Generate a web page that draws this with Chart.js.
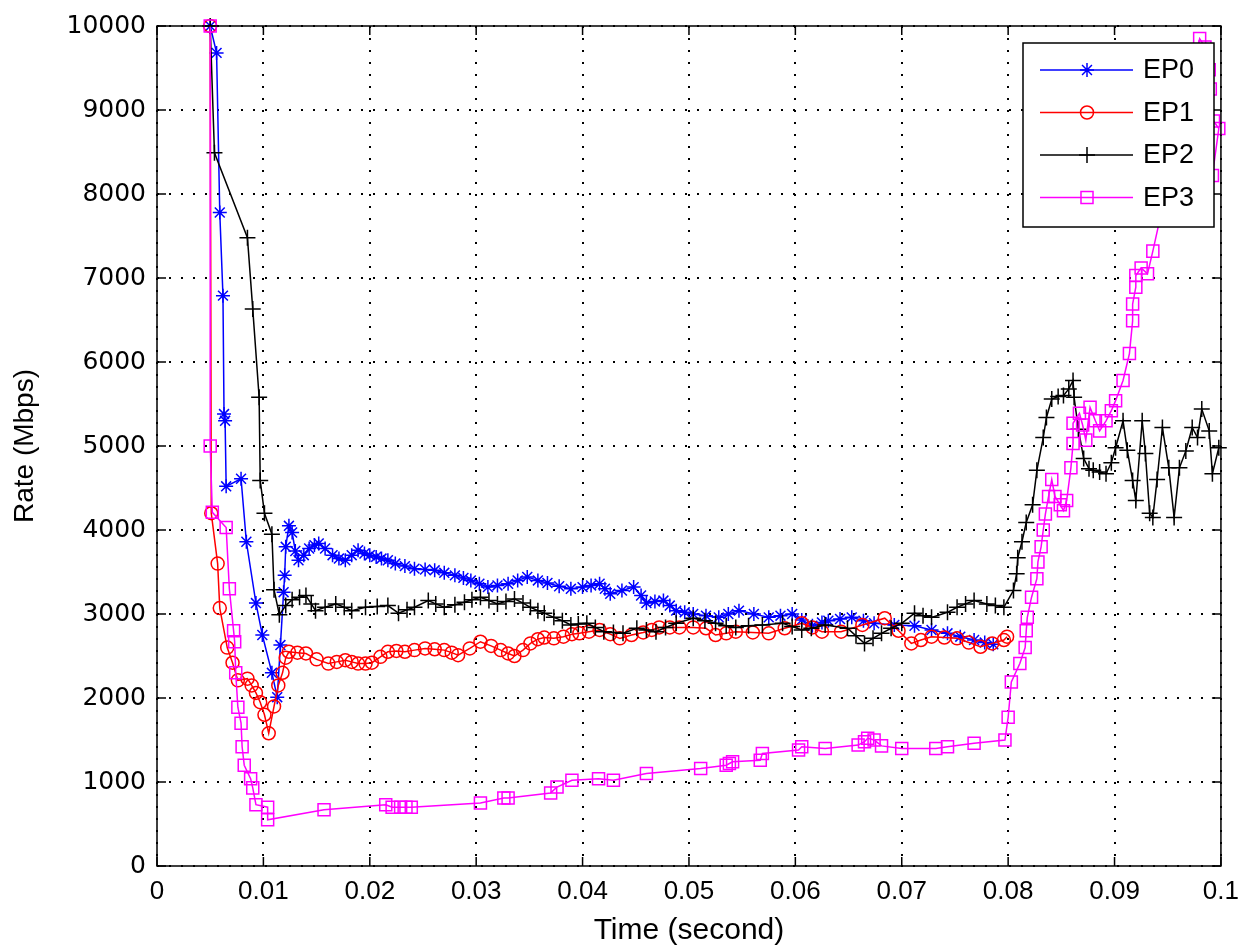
<!DOCTYPE html>
<html>
<head>
<meta charset="utf-8">
<script src="https://cdn.jsdelivr.net/npm/chart.js@4.4.0/dist/chart.umd.min.js"></script>
<style>
  html, body { margin: 0; padding: 0; background: #fff; }
  canvas { display: block; }
</style>
</head>
<body>
<canvas id="rateChart" width="1249" height="949"></canvas>
<script>
// tick values / labels
const xTickValues = [0, 0.01, 0.02, 0.03, 0.04, 0.05, 0.06, 0.07, 0.08, 0.09, 0.1];
const xTickLabels = ['0', '0.01', '0.02', '0.03', '0.04', '0.05', '0.06', '0.07', '0.08', '0.09', '0.1'];
const yTickValues = [0, 1000, 2000, 3000, 4000, 5000, 6000, 7000, 8000, 9000, 10000];
const yTickLabels = ['0', '1000', '2000', '3000', '4000', '5000', '6000', '7000', '8000', '9000', '10000'];

const seriesNames = ['EP0', 'EP1', 'EP2', 'EP3'];

// EP0 (blue, asterisk)
const ep0Time = [0.0050, 0.0056, 0.0059, 0.0062, 0.0063, 0.0064, 0.0065, 0.0079, 0.0084, 0.0093,
  0.0099, 0.0108, 0.0113, 0.0116, 0.0119, 0.0120, 0.0121, 0.0124, 0.0127, 0.0130,
  0.0133, 0.0138, 0.0143, 0.0148, 0.0152, 0.0158, 0.0165, 0.0171, 0.0177, 0.0183,
  0.0189, 0.0195, 0.0200, 0.0206, 0.0211, 0.0217, 0.0224, 0.0233, 0.0242, 0.0252,
  0.0261, 0.0270, 0.0280, 0.0288, 0.0295, 0.0303, 0.0311, 0.0320, 0.0330, 0.0339,
  0.0348, 0.0358, 0.0367, 0.0378, 0.0389, 0.0400, 0.0408, 0.0416, 0.0421, 0.0426,
  0.0437, 0.0448, 0.0455, 0.0460, 0.0468, 0.0476, 0.0482, 0.0488, 0.0496, 0.0504,
  0.0516, 0.0528, 0.0537, 0.0547, 0.0561, 0.0575, 0.0586, 0.0597, 0.0606, 0.0616,
  0.0625, 0.0631, 0.0642, 0.0653, 0.0664, 0.0674, 0.0693, 0.0712, 0.0728, 0.0743,
  0.0755, 0.0768, 0.0778, 0.0786];
const ep0Rate = [10000, 9680, 7780, 6790, 5380, 5300, 4520, 4610, 3860, 3130,
  2750, 2300, 2010, 2630, 3260, 3460, 3800, 4050, 3970, 3750,
  3640, 3700, 3780, 3820, 3840, 3780, 3700, 3660, 3640, 3700,
  3760, 3720, 3700, 3680, 3660, 3640, 3600, 3570, 3540, 3530,
  3520, 3490, 3460, 3430, 3400, 3360, 3320, 3340, 3360, 3400,
  3440, 3400, 3370, 3330, 3300, 3320, 3340, 3360, 3300, 3240,
  3280, 3320, 3220, 3130, 3150, 3160, 3100, 3040, 3020, 3000,
  2980, 2960, 3000, 3040, 3000, 2960, 2980, 3000, 2930, 2860,
  2900, 2920, 2940, 2960, 2920, 2890, 2870, 2860, 2810, 2770,
  2730, 2690, 2660, 2640];

// EP1 (red, circle)
const ep1Time = [0.0050, 0.0051, 0.0057, 0.0059, 0.0066, 0.0071, 0.0076, 0.0085, 0.0089, 0.0093,
  0.0097, 0.0101, 0.0105, 0.0110, 0.0114, 0.0118, 0.0121, 0.0124, 0.0132, 0.0140,
  0.0150, 0.0161, 0.0169, 0.0177, 0.0183, 0.0189, 0.0196, 0.0202, 0.0210, 0.0217,
  0.0225, 0.0233, 0.0242, 0.0252, 0.0261, 0.0270, 0.0277, 0.0283, 0.0294, 0.0304,
  0.0314, 0.0323, 0.0330, 0.0336, 0.0344, 0.0351, 0.0358, 0.0364, 0.0373, 0.0382,
  0.0390, 0.0397, 0.0406, 0.0416, 0.0426, 0.0435, 0.0446, 0.0457, 0.0465, 0.0472,
  0.0482, 0.0491, 0.0504, 0.0516, 0.0525, 0.0535, 0.0544, 0.0560, 0.0575, 0.0590,
  0.0606, 0.0616, 0.0625, 0.0643, 0.0663, 0.0684, 0.0697, 0.0709, 0.0718, 0.0728,
  0.0740, 0.0752, 0.0763, 0.0774, 0.0785, 0.0796, 0.0799];
const ep1Rate = [10000, 4200, 3600, 3070, 2600, 2420, 2210, 2230, 2150, 2060,
  1950, 1800, 1580, 1900, 2150, 2300, 2480, 2550, 2540, 2530,
  2460, 2410, 2430, 2450, 2430, 2410, 2410, 2420, 2490, 2550,
  2560, 2550, 2570, 2590, 2580, 2570, 2540, 2510, 2590, 2670,
  2620, 2570, 2530, 2500, 2570, 2650, 2700, 2720, 2710, 2730,
  2760, 2770, 2790, 2810, 2760, 2710, 2750, 2780, 2810, 2840,
  2840, 2840, 2840, 2830, 2750, 2770, 2790, 2780, 2770, 2830,
  2890, 2840, 2790, 2790, 2870, 2950, 2800, 2650, 2690, 2730,
  2720, 2710, 2660, 2610, 2650, 2690, 2730];

// EP2 (black, plus)
const ep2Time = [0.0050, 0.0054, 0.0085, 0.0090, 0.0096, 0.0097, 0.0101, 0.0108, 0.0110, 0.0115,
  0.0121, 0.0127, 0.0134, 0.0140, 0.0145, 0.0149, 0.0158, 0.0168, 0.0176, 0.0183,
  0.0196, 0.0207, 0.0217, 0.0227, 0.0235, 0.0242, 0.0255, 0.0262, 0.0270, 0.0280,
  0.0289, 0.0296, 0.0304, 0.0312, 0.0320, 0.0328, 0.0336, 0.0344, 0.0351, 0.0358,
  0.0364, 0.0373, 0.0381, 0.0389, 0.0396, 0.0404, 0.0412, 0.0420, 0.0429, 0.0438,
  0.0451, 0.0460, 0.0469, 0.0478, 0.0488, 0.0504, 0.0515, 0.0525, 0.0535, 0.0544,
  0.0556, 0.0569, 0.0588, 0.0597, 0.0606, 0.0615, 0.0628, 0.0649, 0.0657, 0.0665,
  0.0673, 0.0681, 0.0690, 0.0700, 0.0712, 0.0720, 0.0728, 0.0743, 0.0752, 0.0760,
  0.0768, 0.0780, 0.0788, 0.0796, 0.0805, 0.0808, 0.0809, 0.0813, 0.0817, 0.0823,
  0.0827, 0.0833, 0.0836, 0.0841, 0.0847, 0.0852, 0.0857, 0.0861, 0.0862, 0.0866,
  0.0871, 0.0876, 0.0880, 0.0886, 0.0892, 0.0897, 0.0901, 0.0908, 0.0912, 0.0917,
  0.0920, 0.0926, 0.0929, 0.0933, 0.0936, 0.0940, 0.0945, 0.0951, 0.0956, 0.0961,
  0.0967, 0.0973, 0.0978, 0.0982, 0.0989, 0.0992, 0.0998];
const ep2Rate = [10000, 8490, 7480, 6630, 5580, 4590, 4200, 3950, 3290, 2990,
  3100, 3170, 3200, 3220, 3120, 3040, 3080, 3120, 3080, 3040,
  3080, 3090, 3100, 3010, 3050, 3080, 3160, 3120, 3080, 3110,
  3140, 3170, 3200, 3160, 3120, 3150, 3180, 3130, 3080, 3040,
  3010, 2960, 2920, 2870, 2880, 2890, 2840, 2790, 2780, 2770,
  2830, 2810, 2790, 2840, 2890, 2950, 2920, 2890, 2860, 2840,
  2860, 2870, 2890, 2850, 2810, 2830, 2870, 2830, 2740, 2650,
  2710, 2770, 2830, 2890, 3010, 2980, 2960, 3020, 3080, 3120,
  3160, 3120, 3100, 3080, 3280, 3480, 3670, 3860, 4090, 4300,
  4710, 5100, 5340, 5560, 5590, 5600, 5680, 5780, 5580, 5200,
  4850, 4730, 4710, 4690, 4670, 4800, 4980, 5300, 4950, 4590,
  4350, 5300, 4910, 4200, 4150, 4600, 5220, 4740, 4150, 4740,
  4940, 5220, 5100, 5440, 5180, 4670, 4980];

// EP3 (magenta, square)
const ep3Time = [0.0050, 0.0050, 0.0052, 0.0065, 0.0068, 0.0072, 0.0073, 0.0074, 0.0076, 0.0079,
  0.0080, 0.0082, 0.0088, 0.0090, 0.0093, 0.0104, 0.0104, 0.0157, 0.0215, 0.0221,
  0.0229, 0.0234, 0.0239, 0.0304, 0.0326, 0.0330, 0.0370, 0.0376, 0.0390, 0.0415,
  0.0429, 0.0460, 0.0511, 0.0535, 0.0538, 0.0541, 0.0567, 0.0569, 0.0603, 0.0606,
  0.0628, 0.0659, 0.0665, 0.0668, 0.0674, 0.0681, 0.0700, 0.0732, 0.0743, 0.0768,
  0.0797, 0.0800, 0.0803, 0.0811, 0.0816, 0.0817, 0.0818, 0.0822, 0.0827, 0.0828,
  0.0831, 0.0833, 0.0835, 0.0838, 0.0841, 0.0844, 0.0849, 0.0852, 0.0855, 0.0859,
  0.0861, 0.0861, 0.0867, 0.0870, 0.0873, 0.0877, 0.0882, 0.0886, 0.0892, 0.0897,
  0.0901, 0.0908, 0.0914, 0.0917, 0.0917, 0.0920, 0.0920, 0.0925, 0.0931, 0.0936,
  0.0980, 0.0985, 0.0989, 0.0990, 0.0993, 0.0998, 0.0992];
const ep3Rate = [10000, 5000, 4210, 4030, 3300, 2800, 2670, 2300, 1890, 1700,
  1420, 1200, 1040, 930, 730, 700, 550, 670, 730, 700,
  700, 700, 700, 750, 810, 810, 870, 940, 1020, 1040,
  1020, 1100, 1160, 1200, 1220, 1240, 1260, 1340, 1380, 1420,
  1400, 1440, 1480, 1520, 1500, 1430, 1400, 1400, 1420, 1460,
  1500, 1770, 2190, 2410, 2600, 2800, 2960, 3200, 3420, 3620,
  3800, 4000, 4190, 4400, 4600, 4400, 4300, 4230, 4350, 4740,
  5030, 5270, 5390, 5250, 5070, 5460, 5300, 5180, 5300, 5420,
  5540, 5780, 6100, 6490, 6690, 6890, 7030, 7120, 7050, 7320,
  9850, 9750, 9480, 9250, 8870, 8780, 8220];

const seriesColors = ['#0000ff', '#ff0000', '#000000', '#ff00ff'];
const seriesMarkers = ['star', 'circle', 'cross', 'rect'];
const markerRadius = [7, 6.5, 8, 8.5];

const toPoints = (t, r) => t.map((x, i) => ({ x: x, y: r[i] }));
const seriesPoints = [
  toPoints(ep0Time, ep0Rate),
  toPoints(ep1Time, ep1Rate),
  toPoints(ep2Time, ep2Rate),
  toPoints(ep3Time, ep3Rate)
];

// box with inward ticks on all four sides
const axesBox = {
  id: 'axesBox',
  afterDatasetsDraw(chart) {
    const { ctx, chartArea: a, scales } = chart;
    const len = 9;
    ctx.save();
    ctx.strokeStyle = '#000';
    ctx.lineWidth = 1.5;
    ctx.strokeRect(a.left, a.top, a.right - a.left, a.bottom - a.top);
    ctx.beginPath();
    scales.x.ticks.forEach(t => {
      const px = scales.x.getPixelForValue(t.value);
      ctx.moveTo(px, a.bottom); ctx.lineTo(px, a.bottom - len);
      ctx.moveTo(px, a.top); ctx.lineTo(px, a.top + len);
    });
    scales.y.ticks.forEach(t => {
      const py = scales.y.getPixelForValue(t.value);
      ctx.moveTo(a.left, py); ctx.lineTo(a.left + len, py);
      ctx.moveTo(a.right, py); ctx.lineTo(a.right - len, py);
    });
    ctx.stroke();
    ctx.restore();
  }
};

// opaque legend box in the upper right corner
const boxLegend = {
  id: 'boxLegend',
  afterDraw(chart) {
    const { ctx } = chart;
    const bx = 1023, by = 43, bw = 191, bh = 184;
    ctx.save();
    ctx.fillStyle = '#fff';
    ctx.fillRect(bx, by, bw, bh);
    ctx.strokeStyle = '#000';
    ctx.lineWidth = 1.5;
    ctx.strokeRect(bx, by, bw, bh);
    chart.data.datasets.forEach((ds, i) => {
      const rowY = by + 27 + i * 42.5;
      ctx.strokeStyle = ds.borderColor;
      ctx.lineWidth = ds.borderWidth;
      ctx.beginPath();
      ctx.moveTo(bx + 17, rowY);
      ctx.lineTo(bx + 110, rowY);
      ctx.stroke();
      ctx.fillStyle = 'rgba(0,0,0,0)';
      ctx.lineWidth = ds.pointBorderWidth;
      Chart.helpers.drawPoint(ctx, {
        pointStyle: ds.pointStyle, radius: ds.pointRadius,
        borderWidth: ds.pointBorderWidth, rotation: 0
      }, bx + 64, rowY);
      ctx.fillStyle = '#000';
      ctx.font = '27px "Liberation Sans", Arial, sans-serif';
      ctx.textAlign = 'left';
      ctx.textBaseline = 'middle';
      ctx.fillText(ds.label, bx + 120, rowY + 1);
    });
    ctx.restore();
  }
};

const narrowFont = '"Liberation Sans Narrow", "Arial Narrow", "Liberation Sans", sans-serif';

new Chart(document.getElementById('rateChart'), {
  type: 'scatter',
  data: {
    datasets: seriesNames.map((name, i) => ({
      label: name,
      data: seriesPoints[i],
      showLine: true,
      borderColor: seriesColors[i],
      borderWidth: 1.5,
      pointStyle: seriesMarkers[i],
      pointRadius: markerRadius[i],
      pointBorderColor: seriesColors[i],
      pointBackgroundColor: 'rgba(0,0,0,0)',
      pointBorderWidth: 1.5,
      clip: false,
      order: 3 - i
    }))
  },
  options: {
    responsive: false,
    animation: false,
    layout: { padding: { top: 25, right: 20, left: 0, bottom: 0 } },
    plugins: { legend: { display: false }, tooltip: { enabled: false } },
    scales: {
      x: {
        type: 'linear',
        min: 0,
        max: 0.1,
        afterBuildTicks: axis => { axis.ticks = xTickValues.map(v => ({ value: v })); },
        afterFit: scale => { scale.height = 83; },
        grid: { color: '#000', lineWidth: 2, drawTicks: false },
        border: { display: false, dash: [2, 10] },
        ticks: {
          color: '#000',
          padding: 10,
          maxRotation: 0,
          autoSkip: false,
          font: { family: narrowFont, size: 26 },
          callback: (v, i) => xTickLabels[i]
        },
        title: {
          display: true,
          text: 'Time (second)',
          color: '#000',
          font: { family: narrowFont, size: 30 },
          padding: { top: 0, bottom: 0 }
        }
      },
      y: {
        type: 'linear',
        min: 0,
        max: 10000,
        afterBuildTicks: axis => { axis.ticks = yTickValues.map(v => ({ value: v })); },
        afterFit: scale => { scale.width = 157; },
        grid: { color: '#000', lineWidth: 2, drawTicks: false },
        border: { display: false, dash: [2, 10] },
        ticks: {
          color: '#000',
          padding: 11,
          autoSkip: false,
          font: { family: '"DejaVu Sans", sans-serif', size: 25 },
          callback: (v, i) => yTickLabels[i]
        },
        title: {
          display: true,
          text: 'Rate (Mbps)',
          color: '#000',
          font: { family: narrowFont, size: 28 },
          padding: { top: 8, bottom: 0 }
        }
      }
    }
  },
  plugins: [axesBox, boxLegend]
});
</script>
</body>
</html>
